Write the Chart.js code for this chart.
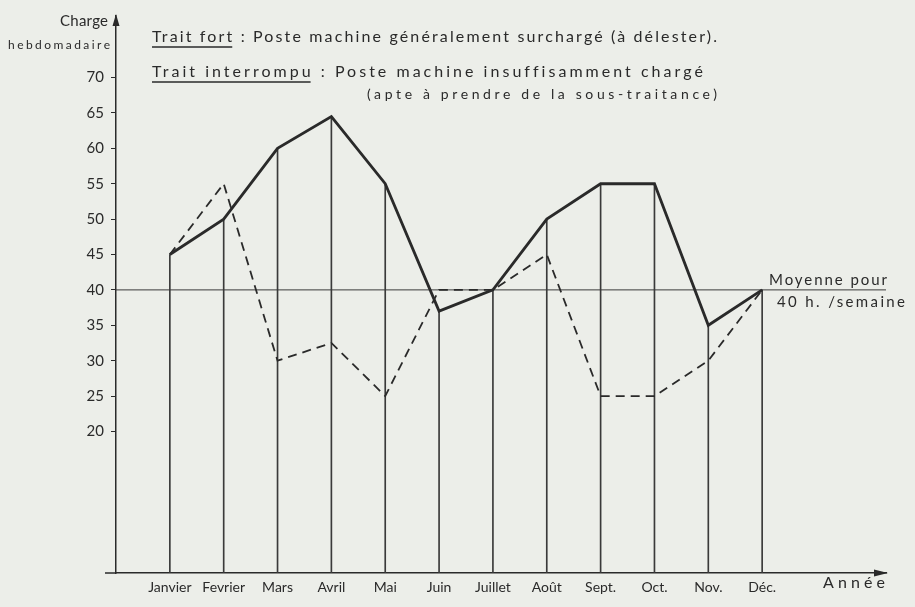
<!DOCTYPE html>
<html lang="fr">
<head>
<meta charset="utf-8">
<title>Charge hebdomadaire</title>
<script src="https://cdn.jsdelivr.net/npm/chart.js@4/dist/chart.umd.min.js"></script>
<style>
	html, body { margin: 0; padding: 0; background: #eceee9; }
	canvas { display: block; }
</style>
</head>
<body>
<canvas id="graficoCharge" width="915" height="607"></canvas>
<script>
var mois = ['Janvier', 'Fevrier', 'Mars', 'Avril', 'Mai', 'Juin', 'Juillet', 'Août', 'Sept.', 'Oct.', 'Nov.', 'Déc.'];
var chargeForte = [45, 50, 60, 64.5, 55, 37, 40, 50, 55, 55, 35, 40];
var chargeFaible = [45, 55, 30, 32.5, 25, 40, 40, 45, 25, 25, 30, 40];
var moyenne = 40;
var graduations = [20, 25, 30, 35, 40, 45, 50, 55, 60, 65, 70];

var ENCRE = '#2a2a2a';
var POLICE = 'Lato, "DejaVu Sans", sans-serif';

function points(valeurs) {
	return valeurs.map(function(v, i) {
		return { x: i + 1, y: v };
	});
}

// texte espacé pour tenir dans une largeur donnée
function texteAjuste(ctx, texte, x, y, largeur, taille) {
	ctx.font = taille + 'px ' + POLICE;
	ctx.letterSpacing = '0px';
	var l = ctx.measureText(texte).width;
	var esp = Math.max(0, (largeur - l) / Math.max(1, texte.length - 1));
	ctx.letterSpacing = esp + 'px';
	ctx.textAlign = 'left';
	ctx.textBaseline = 'middle';
	ctx.fillText(texte, x, y);
	return esp;
}

function souligner(ctx, prefixe, x, y, esp, taille) {
	ctx.font = taille + 'px ' + POLICE;
	ctx.letterSpacing = esp + 'px';
	var l = ctx.measureText(prefixe).width - esp;
	ctx.beginPath();
	ctx.moveTo(x, y);
	ctx.lineTo(x + l, y);
	ctx.lineWidth = 1.3;
	ctx.strokeStyle = ENCRE;
	ctx.stroke();
}

var pluginDessin = {
	id: 'dessin',
	beforeDraw: function(chart) {
		var ctx = chart.ctx;
		ctx.save();
		ctx.fillStyle = '#eceee9';
		ctx.fillRect(0, 0, chart.width, chart.height);
		ctx.restore();
	},
	afterDraw: function(chart) {
		var ctx = chart.ctx;
		var zone = chart.chartArea;
		var y40 = chart.scales.y.getPixelForValue(moyenne);
		ctx.save();
		ctx.fillStyle = ENCRE;

		// flèches des axes
		ctx.beginPath();
		ctx.moveTo(zone.left, zone.top - 2);
		ctx.lineTo(zone.left - 3.5, zone.top + 10);
		ctx.lineTo(zone.left + 3.5, zone.top + 10);
		ctx.closePath();
		ctx.fill();
		ctx.beginPath();
		ctx.moveTo(zone.right + 2, zone.bottom);
		ctx.lineTo(zone.right - 12, zone.bottom - 3.5);
		ctx.lineTo(zone.right - 12, zone.bottom + 3.5);
		ctx.closePath();
		ctx.fill();

		// l'axe horizontal dépasse un peu à gauche
		ctx.beginPath();
		ctx.moveTo(zone.left - 11, zone.bottom);
		ctx.lineTo(zone.left, zone.bottom);
		ctx.lineWidth = 1.5;
		ctx.strokeStyle = ENCRE;
		ctx.stroke();

		// titre de l'axe vertical
		texteAjuste(ctx, 'Charge', 60, 21, 48, 15);
		texteAjuste(ctx, 'hebdomadaire', 8, 45, 102, 12);

		// légende
		var e1 = texteAjuste(ctx, 'Trait fort : Poste machine généralement surchargé (à délester).', 152, 37, 565, 16);
		souligner(ctx, 'Trait fort', 152, 47, e1, 16);
		var e2 = texteAjuste(ctx, 'Trait interrompu : Poste machine insuffisamment chargé', 152, 72, 550, 16);
		souligner(ctx, 'Trait interrompu', 152, 82, e2, 16);
		texteAjuste(ctx, '(apte à prendre de la sous-traitance)', 367, 94, 350, 14);

		// moyenne
		texteAjuste(ctx, 'Moyenne pour', 769, y40 - 10, 118, 15);
		texteAjuste(ctx, '40 h. /semaine', 777, y40 + 12, 128, 15);

		// axe horizontal
		texteAjuste(ctx, 'Année', 823, zone.bottom + 10, 62, 16);
		ctx.restore();
	}
};

var graficoCharge = new Chart(document.getElementById('graficoCharge').getContext('2d'), {
	type: 'line',
	data: {
		datasets: [{
			label: 'Trait fort',
			data: points(chargeForte),
			borderColor: ENCRE,
			borderWidth: 2.8,
			pointRadius: 0,
			tension: 0,
			order: 0
		}, {
			label: 'Trait interrompu',
			data: points(chargeFaible),
			borderColor: ENCRE,
			borderWidth: 1.8,
			borderDash: [9, 6],
			pointRadius: 0,
			tension: 0,
			order: 1
		}, {
			label: 'Moyenne',
			data: [{ x: 0, y: moyenne }, { x: 14.3, y: moyenne }],
			borderColor: '#3a3a3a',
			borderWidth: 1,
			pointRadius: 0,
			order: 2
		}, {
			type: 'bar',
			label: 'Repères',
			data: points(chargeForte),
			backgroundColor: '#3a3a3a',
			barThickness: 1,
			order: 3
		}]
	},
	options: {
		responsive: false,
		animation: false,
		devicePixelRatio: 1,
		layout: { padding: { top: 13, right: 29, left: 0, bottom: 0 } },
		plugins: {
			legend: { display: false },
			tooltip: { enabled: false }
		},
		scales: {
			x: {
				type: 'linear',
				min: 0,
				max: 14.3,
				offset: false,
				afterFit: function(scale) { scale.height = 34; },
				afterBuildTicks: function(scale) {
					scale.ticks = mois.map(function(m, i) { return { value: i + 1 }; });
				},
				border: { display: true, color: ENCRE, width: 1.5 },
				grid: { offset: false, drawOnChartArea: false, drawTicks: false },
				ticks: {
					padding: 6,
					color: ENCRE,
					font: { family: POLICE, size: 14 },
					maxRotation: 0,
					autoSkip: false,
					callback: function(v) { return mois[v - 1] || ''; }
				}
			},
			y: {
				min: 0,
				max: 78.7,
				afterFit: function(scale) { scale.width = 116; },
				afterBuildTicks: function(scale) {
					scale.ticks = graduations.map(function(g) { return { value: g }; });
				},
				border: { display: true, color: ENCRE, width: 1.5 },
				grid: { drawOnChartArea: false, drawTicks: true, tickLength: 5, color: ENCRE },
				ticks: {
					padding: 7,
					color: ENCRE,
					font: { family: POLICE, size: 15 }
				}
			}
		}
	},
	plugins: [pluginDessin]
});
</script>
</body>
</html>
